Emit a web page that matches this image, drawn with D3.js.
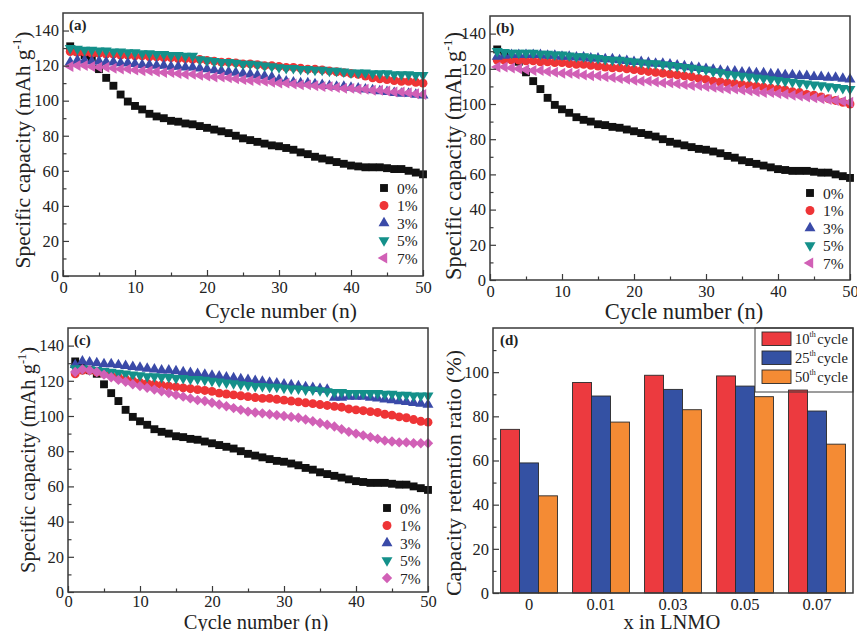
<!DOCTYPE html>
<html>
<head>
<meta charset="utf-8">
<script src="https://cdn.jsdelivr.net/npm/d3@7"></script>
<style>
  body { margin: 0; background: #fff; }
  text { font-family: "Liberation Serif", "Times New Roman", serif; fill: #222; }
</style>
</head>
<body>
<div id="fig"></div>
<script>
// ---- data ----
const series_names = ['0%', '1%', '3%', '5%', '7%'];

// 0% sample, same curve in (a), (b), (c)
const cap_0 = [131,128,126,124,118,113,108.5,103.5,99.5,97,
  95,92.5,91,90,88.5,88,87,86.5,85.5,84.5,
  83.5,82.5,81.5,80,78.5,77.5,76.5,75.5,74.5,74,
  73,72,70.5,69.5,68,67,66,65,64,63,
  62.5,62,62,62,61.5,61,61,60,59,58];

// panel (a)
const a_1 = [128,127.5,127.5,127,127,126.5,126.5,126,126,125.5,
  125.5,125,125,124.5,124.5,124,124,123.5,123.5,123,
  122.5,122,122,121.5,121,121,120.5,120,120,119.5,
  119,119,118.5,118,118,117.5,117,116.5,116,115.5,
  115,114,113,112.5,112,111.5,111,111,110.5,110];
const a_3 = [122,123,123,122.5,122.5,122,122,121.5,121.5,121,
  120.5,120.5,120,120,119.5,119.5,119,119,118.5,118,
  117.5,117,116.5,116,115.5,115,114.5,114,113.5,112,
  111,110.5,110,110,109.5,109,108.5,108,108,107.5,
  107,106.5,106,105.5,105,104.5,104,104,103.5,103];
const a_5 = [130,129.5,129,129,128.5,128.5,128,128,127.5,127.5,
  127,127,126.5,126.5,126,126,125.5,125.5,123.5,123,
  122.5,122,122,121.5,121,121,120.5,120,119.5,119,
  118.5,118.5,118,118,117.5,117.5,117,117,116.5,116,
  116,116,115.5,115.5,115.5,115,115,115,114.5,114.5];
const a_7 = [119.5,120,120,119.5,119,119,118.5,118,118,117.5,
  117,117,116.5,116,116,115.5,115,115,114.5,114,
  113.5,113.5,113,112.5,112,111.5,111.5,111,110.5,110,
  110,109.5,109,109,108.5,108,108,107.5,107,107,
  106.5,106.5,106,106,105.5,105,105,104.5,104,103.5];

// panel (b)
const b_1 = [125,125,125,125,124.5,124.5,124,124,123.5,123.5,
  123,122.5,122.5,122,121.5,121,120.5,120.5,120,119.5,
  119,118.5,118,117.5,117,116.5,116,115.5,114.5,114,
  113,112.5,112,111.5,111,110.5,110,109.5,109,108.5,
  108,107,106.5,105.5,105,104,103,102,101,100];
const b_3 = [127,127.5,128,128,128,128,128,127.5,127.5,127,
  127,126.5,126.5,126,126,125.5,125.5,125,124.5,124,
  124,123.5,123,123,122.5,122,121.5,121,120.5,120,
  119.5,119,118.5,118.5,118,118,117.5,117.5,117,117,
  116.5,116.5,116,116,115.5,115.5,115,115,114.5,114];
const b_5 = [130,129.5,129,129,129,129,128.5,128.5,128,128,
  127.5,127,127,126.5,126,125.5,125,125,124.5,124,
  123.5,123,123,122.5,122,121.5,121,120.5,120,119.5,
  118.5,118,117,116.5,116,115.5,115,114.5,114,113.5,
  113,112.5,112,111.5,111,110.5,110,109.5,109,108.5];
const b_7 = [121,121,120.5,120,119.5,119,119,118.5,118,117.5,
  117.5,117,116.5,116,116,115.5,115,114.5,114,113.5,
  113,113,112.5,112,112,111.5,111,110.5,110.5,110,
  109.5,109,108.5,108.5,108,107.5,107,106.5,106.5,106,
  105.5,105,104.5,104,103.5,103,102.5,102,101.5,101];

// panel (c)
const c_1 = [124,126,126,125,124,123,122,121,120,119,
  118.5,118,117.5,117,116.5,116,115.5,115,114.5,114,
  113,112.5,112,111.5,111,110.5,110,110,109.5,109,
  108.5,108,107.5,107,106.5,106,105.5,105,104,103.5,
  103,102.5,102,101,100.5,99.5,99,98,97,96.5];
const c_3 = [129,131,130.5,130,129.5,129.5,129,128.5,128,127.5,
  127,126.5,126,126,125.5,125,124.5,124,123.5,123,
  122.5,122,121.5,121,120.5,120,119.5,119,118.5,118,
  117.5,117,116.5,116,115.5,115,110.5,110.5,111,111,
  111,110.5,110,109.5,109,108.5,108,107.5,107,106.5];
const c_5 = [127,127,126.5,126,125.5,125,124.5,124,123.5,123,
  122.5,122.5,122,122,121.5,121.5,121,121,120.5,120,
  119.5,119,118.5,118,117.5,117,117,116.5,116.5,116,
  115.5,115.5,115,115,114.5,114,113.5,113.5,113,113,
  113,113,113,112.5,112.5,112,112,111.5,111.5,111.5];
const c_7 = [125,126.5,126,125,123.5,122,120.5,119.5,118,117,
  116,115,114,113,112,111,110,109,108.5,107.5,
  106.5,105.5,104.5,103.5,102.5,102,101.5,101,100.5,100,
  99.5,99,98,97,96,95,94,92.5,91,90,
  89,88,87,86,85.5,85,85,84.5,84.5,84.5];

// panel (d)
const lnmo_x = ['0', '0.01', '0.03', '0.05', '0.07'];
const ret_10 = [74.1, 95.3, 98.6, 98.3, 91.9];
const ret_25 = [58.9, 89.2, 92.2, 93.7, 82.4];
const ret_50 = [44.0, 77.4, 83.0, 88.9, 67.4];

// ---- styles ----
const line_colors = ['#111111', '#ee3436', '#3a4aa8', '#14908a', '#d160b6'];
const bar_colors = ['#ec3a3f', '#3451a3', '#f48b34'];
const frame_color = '#3a3a3a';

const W = 857, H = 631;
const svg = d3.select('#fig').append('svg')
  .attr('width', W).attr('height', H)
  .attr('viewBox', `0 0 ${W} ${H}`);

// marker shapes (Origin style)
function markerPath(kind) {
  if (kind === 'square') return d3.symbol(d3.symbolSquare, 62)();
  if (kind === 'circle') return d3.symbol(d3.symbolCircle, 62)();
  if (kind === 'diamond') return d3.symbol(d3.symbolSquare, 54)();
  return d3.symbol(d3.symbolTriangle, 52)();
}
function markerRot(kind) {
  if (kind === 'down') return 180;
  if (kind === 'left') return -90;
  if (kind === 'diamond') return 45;
  return 0;
}

function drawCyclePanel(p) {
  const x = d3.scaleLinear().domain([0, 50]).range([p.left, p.right]);
  const y = d3.scaleLinear().domain([0, 150]).range([p.bottom, p.top]);
  const g = svg.append('g');

  // series, drawn in legend order (later on top)
  p.series.forEach((vals, si) => {
    const kind = p.shapes[si];
    g.append('g').selectAll('path')
      .data(vals)
      .join('path')
        .attr('d', markerPath(kind))
        .attr('transform', (d, i) => `translate(${x(i + 1)},${y(d)}) rotate(${markerRot(kind)})`)
        .attr('fill', line_colors[si]);
  });

  // axes with inward ticks
  const ax = g.append('g').attr('transform', `translate(0,${p.bottom})`)
    .call(d3.axisBottom(x).tickValues(d3.range(0, 51, 10)).tickSize(-6).tickPadding(p.tickPad).tickFormat(d3.format('d')));
  g.append('g').attr('transform', `translate(0,${p.bottom})`)
    .call(d3.axisBottom(x).tickValues(d3.range(5, 50, 10)).tickSize(-3.5).tickFormat(''));
  const ay = g.append('g').attr('transform', `translate(${p.left},0)`)
    .call(d3.axisLeft(y).tickValues(d3.range(0, 141, 20)).tickSize(-6).tickPadding(4));
  g.append('g').attr('transform', `translate(${p.left},0)`)
    .call(d3.axisLeft(y).tickValues(d3.range(10, 150, 20)).tickSize(-3.5).tickFormat(''));
  g.selectAll('.domain').remove();
  g.selectAll('.tick line').attr('stroke', frame_color).attr('stroke-width', 1.2);
  ax.selectAll('text').attr('font-size', 16.5).attr('fill', '#222').attr('dy', '0.55em');
  ay.selectAll('text').attr('font-size', 16.5).attr('fill', '#222');

  g.append('rect')
    .attr('x', p.left).attr('y', p.top)
    .attr('width', p.right - p.left).attr('height', p.bottom - p.top)
    .attr('fill', 'none').attr('stroke', frame_color).attr('stroke-width', 1.5);

  g.append('text').attr('x', p.left + 6).attr('y', p.top + 17)
    .attr('font-size', 15).attr('font-weight', 'bold').text(p.tag);

  // axis titles
  g.append('text').attr('x', p.xTitleX).attr('y', p.xTitleY)
    .attr('text-anchor', 'middle').attr('font-size', p.titleSize).text('Cycle number (n)');
  const yt = g.append('text')
    .attr('transform', `translate(${p.yTitleX},${p.yTitleY}) rotate(-90)`)
    .attr('text-anchor', 'middle').attr('font-size', p.titleSize);
  yt.append('tspan').text('Specific capacity (mAh g');
  yt.append('tspan').attr('font-size', p.titleSize * 0.6).attr('dy', -9).text('-1');
  yt.append('tspan').attr('dy', 9).text(')');

  // legend
  series_names.forEach((name, si) => {
    const ly = p.legY + si * p.legStep;
    const kind = p.shapes[si];
    g.append('path').attr('d', markerPath(kind))
      .attr('transform', `translate(${p.legX},${ly}) rotate(${markerRot(kind)})`)
      .attr('fill', line_colors[si]);
    g.append('text').attr('x', p.legX + 13).attr('y', ly + 5.5)
      .attr('font-size', 15.5).text(name);
  });
}

drawCyclePanel({
  tag: '(a)', left: 63, right: 423, top: 13, bottom: 276, tickPad: 8,
  series: [cap_0, a_1, a_3, a_5, a_7],
  shapes: ['square', 'circle', 'up', 'down', 'left'],
  xTitleX: 281, xTitleY: 318, yTitleX: 30, yTitleY: 150, titleSize: 21.5,
  legX: 384, legY: 188, legStep: 17.5
});
drawCyclePanel({
  tag: '(b)', left: 490, right: 850, top: 16, bottom: 280, tickPad: 8,
  series: [cap_0, b_1, b_3, b_5, b_7],
  shapes: ['square', 'circle', 'up', 'down', 'left'],
  xTitleX: 684, xTitleY: 319, yTitleX: 461, yTitleY: 156, titleSize: 22.5,
  legX: 810, legY: 193, legStep: 17.5
});
drawCyclePanel({
  tag: '(c)', left: 68, right: 428, top: 328, bottom: 592, tickPad: 6,
  series: [cap_0, c_1, c_3, c_5, c_7],
  shapes: ['square', 'circle', 'up', 'down', 'diamond'],
  xTitleX: 256, xTitleY: 629, yTitleX: 35, yTitleY: 460, titleSize: 20.5,
  legX: 387, legY: 508, legStep: 17.5
});

// ---- panel (d): grouped bars ----
(function drawBars() {
  const p = { left: 493, right: 853, top: 328, bottom: 593 };
  const groups = [ret_10, ret_25, ret_50];
  const group_names = ['10', '25', '50'];
  const x0 = d3.scaleBand().domain(lnmo_x).range([p.left, p.right]).paddingInner(0.21).paddingOuter(0.105);
  const x1 = d3.scaleBand().domain(d3.range(groups.length)).range([0, x0.bandwidth()]);
  const y = d3.scaleLinear().domain([0, 120]).range([p.bottom, p.top]);
  const g = svg.append('g');

  const cat = g.selectAll('g.cat')
    .data(lnmo_x)
    .join('g')
      .attr('class', 'cat')
      .attr('transform', d => `translate(${x0(d)},0)`);
  cat.selectAll('rect')
    .data((d, ci) => groups.map((arr, gi) => ({ gi, v: arr[ci] })))
    .join('rect')
      .attr('x', d => x1(d.gi))
      .attr('width', x1.bandwidth())
      .attr('y', d => y(d.v))
      .attr('height', d => y(0) - y(d.v))
      .attr('fill', d => bar_colors[d.gi])
      .attr('stroke', '#2a2a2a')
      .attr('stroke-width', 0.9);

  const ax = g.append('g').attr('transform', `translate(0,${p.bottom})`)
    .call(d3.axisBottom(x0).tickSize(0).tickPadding(8));
  const ay = g.append('g').attr('transform', `translate(${p.left},0)`)
    .call(d3.axisLeft(y).tickValues(d3.range(0, 101, 20)).tickSize(-6).tickPadding(4));
  g.append('g').attr('transform', `translate(${p.left},0)`)
    .call(d3.axisLeft(y).tickValues(d3.range(10, 120, 20)).tickSize(-3.5).tickFormat(''));
  g.selectAll('.domain').remove();
  g.selectAll('.tick line').attr('stroke', frame_color).attr('stroke-width', 1.2);
  ax.selectAll('text').attr('font-size', 16.5).attr('fill', '#222').attr('dy', '0.55em');
  ay.selectAll('text').attr('font-size', 16.5).attr('fill', '#222');

  g.append('rect')
    .attr('x', p.left).attr('y', p.top)
    .attr('width', p.right - p.left).attr('height', p.bottom - p.top)
    .attr('fill', 'none').attr('stroke', frame_color).attr('stroke-width', 1.5);

  g.append('text').attr('x', p.left + 7).attr('y', p.top + 17)
    .attr('font-size', 15).attr('font-weight', 'bold').text('(d)');

  g.append('text').attr('x', 672).attr('y', 629)
    .attr('text-anchor', 'middle').attr('font-size', 20.5).text('x in LNMO');
  g.append('text')
    .attr('transform', `translate(461,473) rotate(-90)`)
    .attr('text-anchor', 'middle').attr('font-size', 22)
    .text('Capacity retention ratio (%)');

  // legend box (no fill, the 0.07 bar top shows under it)
  g.append('rect').attr('x', 755).attr('y', p.top).attr('width', p.right - 755).attr('height', 64)
    .attr('fill', 'none').attr('stroke', frame_color).attr('stroke-width', 1);
  group_names.forEach((n, gi) => {
    const ly = 332 + gi * 19;
    g.append('rect').attr('x', 762).attr('y', ly).attr('width', 29).attr('height', 13.5)
      .attr('fill', bar_colors[gi]).attr('stroke', '#2a2a2a').attr('stroke-width', 0.9);
    const t = g.append('text').attr('x', 795).attr('y', ly + 12).attr('font-size', 14.5);
    t.append('tspan').text(n);
    t.append('tspan').attr('font-size', 8).attr('dy', -7).text('th');
    t.append('tspan').attr('dy', 7).attr('dx', 1.5).text('cycle');
  });
})();
</script>
</body>
</html>
